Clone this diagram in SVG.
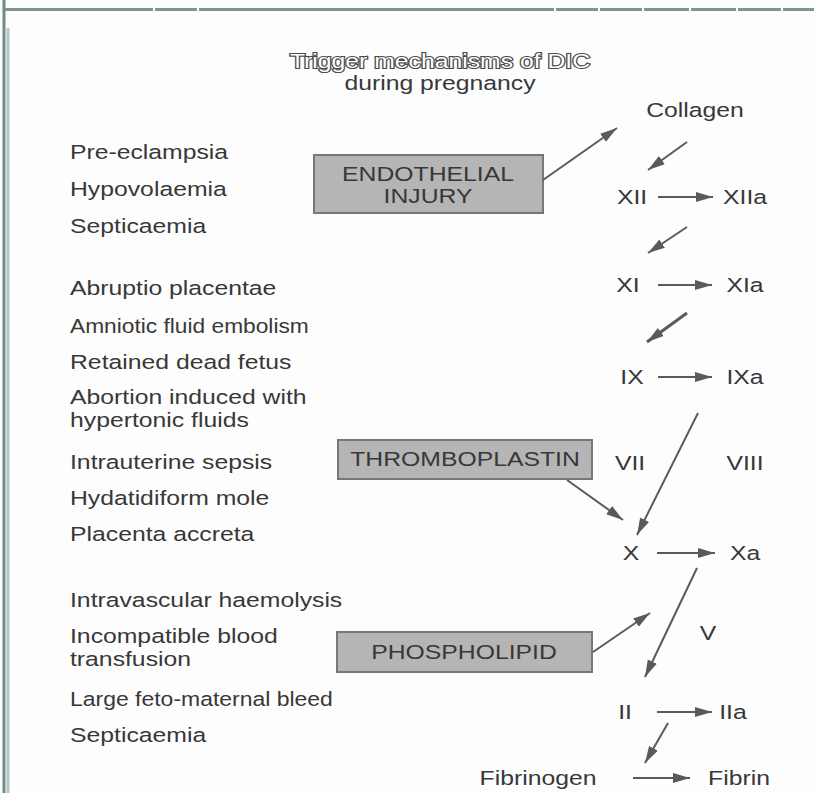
<svg xmlns="http://www.w3.org/2000/svg" width="814" height="793" viewBox="0 0 814 793">
<style>
.t{font-family:"Liberation Sans",Arial,sans-serif;font-size:19.5px;fill:#383838}
.m{text-anchor:middle}
.box{fill:#b5b5b5;stroke:#777777;stroke-width:2}
.c{stroke:#5a5a5a;stroke-width:2;fill:none;marker-end:url(#ah)}
.title{font-family:"Liberation Sans",Arial,sans-serif;font-size:19.5px;fill:#ffffff;stroke:#4a4a4a;stroke-width:2.2;paint-order:stroke;text-anchor:middle}
</style>
<defs>
<marker id="ah" markerUnits="userSpaceOnUse" markerWidth="20" markerHeight="12" refX="17" refY="5.5" orient="auto">
<path d="M0,0.5 L17,5.5 L0,10.5 Z" fill="#5a5a5a"/>
</marker>
</defs>
<rect width="814" height="793" fill="#fdfdfd"/>
<g id="frame">
<line x1="4" y1="0" x2="4" y2="793" stroke="#6d8c8a" stroke-width="3"/>
<line x1="8" y1="28" x2="8" y2="793" stroke="#b4c7c6" stroke-width="3"/>
<line x1="5" y1="9.5" x2="814" y2="9.5" stroke="#7d9693" stroke-width="3" stroke-dasharray="148 2 42 2 355 2 42 2 42 2 45 2 45 2 43 2 40"/>
</g>
<g id="title">
<text class="title" transform="translate(440 68) scale(1.27 1)">Trigger mechanisms of DIC</text>
<text class="t m" transform="translate(440 90) scale(1.27 1)">during pregnancy</text>
</g>
<g id="causes-endothelial">
<text class="t" transform="translate(70 159) scale(1.27 1)">Pre-eclampsia</text>
<text class="t" transform="translate(70 196) scale(1.27 1)">Hypovolaemia</text>
<text class="t" transform="translate(70 233) scale(1.27 1)">Septicaemia</text>
</g>
<g id="causes-thromboplastin">
<text class="t" transform="translate(70 295) scale(1.27 1)">Abruptio placentae</text>
<text class="t" transform="translate(70 333) scale(1.27 1)" textLength="188" lengthAdjust="spacingAndGlyphs">Amniotic fluid embolism</text>
<text class="t" transform="translate(70 369) scale(1.27 1)">Retained dead fetus</text>
<text class="t" transform="translate(70 404) scale(1.27 1)">Abortion induced with</text>
<text class="t" transform="translate(70 427) scale(1.27 1)">hypertonic fluids</text>
<text class="t" transform="translate(70 469) scale(1.27 1)">Intrauterine sepsis</text>
<text class="t" transform="translate(70 505) scale(1.27 1)">Hydatidiform mole</text>
<text class="t" transform="translate(70 541) scale(1.27 1)">Placenta accreta</text>
</g>
<g id="causes-phospholipid">
<text class="t" transform="translate(70 607) scale(1.27 1)">Intravascular haemolysis</text>
<text class="t" transform="translate(70 643) scale(1.27 1)">Incompatible blood</text>
<text class="t" transform="translate(70 666) scale(1.27 1)">transfusion</text>
<text class="t" transform="translate(70 706) scale(1.27 1)" textLength="207" lengthAdjust="spacingAndGlyphs">Large feto-maternal bleed</text>
<text class="t" transform="translate(70 742) scale(1.27 1)">Septicaemia</text>
</g>
<g id="endothelial-injury">
<rect class="box" x="314" y="155" width="229" height="58"/>
<text class="t m" transform="translate(428 181) scale(1.27 1)">ENDOTHELIAL</text>
<text class="t m" transform="translate(428 203) scale(1.27 1)">INJURY</text>
</g>
<g id="thromboplastin">
<rect class="box" x="338" y="440" width="254" height="39"/>
<text class="t m" transform="translate(465 466) scale(1.27 1)">THROMBOPLASTIN</text>
</g>
<g id="phospholipid">
<rect class="box" x="337" y="632" width="255" height="40"/>
<text class="t m" transform="translate(464 659) scale(1.27 1)">PHOSPHOLIPID</text>
</g>
<g id="collagen"><text class="t m" transform="translate(695 117) scale(1.27 1)">Collagen</text></g>
<g id="xii"><text class="t m" transform="translate(632 204) scale(1.27 1)">XII</text></g>
<g id="xiia"><text class="t m" transform="translate(745 204) scale(1.27 1)">XIIa</text></g>
<g id="xi"><text class="t m" transform="translate(628 292) scale(1.27 1)">XI</text></g>
<g id="xia"><text class="t m" transform="translate(745 292) scale(1.27 1)">XIa</text></g>
<g id="ix"><text class="t m" transform="translate(632 384) scale(1.27 1)">IX</text></g>
<g id="ixa"><text class="t m" transform="translate(745 384) scale(1.27 1)">IXa</text></g>
<g id="vii"><text class="t m" transform="translate(630 470) scale(1.27 1)">VII</text></g>
<g id="viii"><text class="t m" transform="translate(745 470) scale(1.27 1)">VIII</text></g>
<g id="x"><text class="t m" transform="translate(631 560) scale(1.27 1)">X</text></g>
<g id="xa"><text class="t m" transform="translate(745 560) scale(1.27 1)">Xa</text></g>
<g id="v"><text class="t m" transform="translate(708 640) scale(1.27 1)">V</text></g>
<g id="ii"><text class="t m" transform="translate(625 719) scale(1.27 1)">II</text></g>
<g id="iia"><text class="t m" transform="translate(733 719) scale(1.27 1)">IIa</text></g>
<g id="fibrinogen"><text class="t m" transform="translate(538 785) scale(1.27 1)">Fibrinogen</text></g>
<g id="fibrin"><text class="t m" transform="translate(739 785) scale(1.27 1)">Fibrin</text></g>
<g id="connectors">
<line class="c" x1="543" y1="180" x2="617" y2="128"/>
<line class="c" x1="687" y1="142" x2="648" y2="170"/>
<line class="c" x1="658" y1="197" x2="713" y2="197"/>
<line class="c" x1="687" y1="227" x2="648" y2="253"/>
<line class="c" x1="658" y1="285" x2="712" y2="285"/>
<line class="c" x1="687" y1="313" x2="647" y2="342" style="stroke-width:3"/>
<line class="c" x1="658" y1="377" x2="712" y2="377"/>
<line class="c" x1="698" y1="413" x2="637" y2="535"/>
<line class="c" x1="567" y1="480" x2="623" y2="520"/>
<line class="c" x1="657" y1="553" x2="715" y2="553"/>
<line class="c" x1="593" y1="652" x2="650" y2="613"/>
<line class="c" x1="697" y1="568" x2="645" y2="677"/>
<line class="c" x1="657" y1="712" x2="712" y2="712"/>
<line class="c" x1="668" y1="723" x2="645" y2="763"/>
<line class="c" x1="633" y1="778" x2="690" y2="778"/>
</g>
</svg>
